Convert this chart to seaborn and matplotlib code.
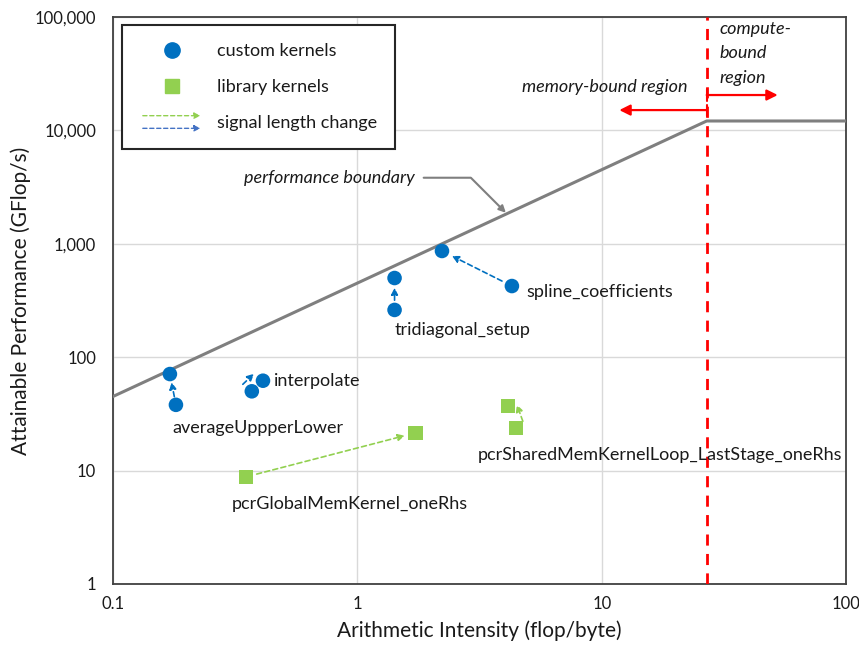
import numpy as np
import pandas as pd
import matplotlib
matplotlib.use("Agg")
import matplotlib.pyplot as plt
import matplotlib.transforms as mtrans
import seaborn as sns
from matplotlib.lines import Line2D
from matplotlib.patches import FancyArrowPatch
from matplotlib.legend_handler import HandlerBase
from matplotlib.ticker import FuncFormatter, LogLocator, NullFormatter

# ---------------- data ----------------
kernel_names = ["averageUppperLower", "interpolate", "tridiagonal_setup",
                "spline_coefficients", "pcrGlobalMemKernel_oneRhs",
                "pcrSharedMemKernelLoop_LastStage_oneRhs"]
kernel_kind = ["custom kernels", "custom kernels", "custom kernels",
               "custom kernels", "library kernels", "library kernels"]
ai_before = [0.181, 0.370, 1.42, 4.29, 0.350, 4.45]
perf_before = [38, 50, 261, 424, 8.8, 23.8]
ai_after = [0.171, 0.411, 1.42, 2.22, 1.73, 4.13]
perf_after = [71, 62, 499, 864, 21.5, 37.1]

peak_gflops = 12100.0
bandwidth_gbs = 450.0
x_ticks = [0.1, 1, 10, 100]
y_ticks = [1, 10, 100, 1000, 10000, 100000]

# ---------------- style ----------------
sns.set_theme(style="white")
plt.rcParams["font.family"] = ["Lato", "DejaVu Sans"]

BLUE = "#0070C0"
GREEN = "#92D050"
LBLUE = "#4472C4"
GRAY = "#7F7F7F"
RED = "#FF0000"
EDGE = "#404040"
TXT = "#1a1a1a"

fig = plt.figure(figsize=(8.59, 6.48), dpi=100)
ax = fig.add_axes([0.1315, 0.0988, 0.8535, 0.8750])

df = pd.DataFrame({
    "name": kernel_names * 2,
    "kind": kernel_kind * 2,
    "ai": ai_before + ai_after,
    "perf": perf_before + perf_after,
})

ax.set_xscale("log")
ax.set_yscale("log")
ax.set_xlim(0.1, 100)
ax.set_ylim(1, 100000)

# grid
ax.grid(True, which="major", color="#D9D9D9", lw=1.0)
ax.set_axisbelow(True)

# roofline
ridge = peak_gflops / bandwidth_gbs
rx = np.array([0.1, ridge, 100.0])
ry = np.minimum(peak_gflops, bandwidth_gbs * rx)
ax.plot(rx, ry, color=GRAY, lw=2.2, zorder=3)

# ridge vertical line
ax.axvline(ridge, color=RED, lw=2.0, ls=(0, (4, 3)), zorder=3)

# points
sns.scatterplot(data=df, x="ai", y="perf", hue="kind", style="kind",
                markers={"custom kernels": "o", "library kernels": "s"},
                palette={"custom kernels": BLUE, "library kernels": GREEN},
                s=110, linewidth=0, legend=False, ax=ax, zorder=4)

# arrows showing signal length change (pixel offset, shrink) per arrow
arrow_layout = [(0, 0, 6), (-9, 7, 0), (0, 0, 7), (0, 0, 8), (0, 0, 8), (8, 4, 2)]
for k, x0, y0, x1, y1, (ox, oy, shr) in zip(kernel_kind, ai_before, perf_before,
                                           ai_after, perf_after, arrow_layout):
    c = BLUE if k == "custom kernels" else GREEN
    tr = ax.transData + mtrans.ScaledTranslation(ox / 100, oy / 100, fig.dpi_scale_trans)
    arr = FancyArrowPatch((x0, y0), (x1, y1), transform=tr, arrowstyle="-|>",
                          color=c, lw=1.2, ls=(0, (3, 2)), shrinkA=shr, shrinkB=shr,
                          mutation_scale=10, zorder=3)
    ax.add_patch(arr)

# kernel labels (offset in pixels from a reference point)
label_layout = {
    "averageUppperLower": (1, 88, -54, "center"),
    "interpolate": (1, 11, 0, "left"),
    "tridiagonal_setup": (0, 68, -20, "center"),
    "spline_coefficients": (0, 14, -6, "left"),
    "pcrGlobalMemKernel_oneRhs": (0, 104, -27, "center"),
    "pcrSharedMemKernelLoop_LastStage_oneRhs": (0, 144, -27, "center"),
}
for i, nm in enumerate(kernel_names):
    which, dx, dy, ha = label_layout[nm]
    px, py = (ai_after[i], perf_after[i]) if which == 1 else (ai_before[i], perf_before[i])
    ax.annotate(nm, xy=(px, py), xytext=(dx, dy), textcoords="offset pixels",
                ha=ha, va="center", fontsize=13, color=TXT, zorder=5)

# performance boundary annotation
xb = 4.09
ax.annotate("performance boundary", xy=(xb, bandwidth_gbs * xb), xytext=(-92, 36),
            textcoords="offset pixels", ha="right", va="center", fontsize=13,
            style="italic", color=TXT,
            arrowprops=dict(arrowstyle="-|>", color=GRAY, lw=1.5,
                            connectionstyle="angle,angleA=0,angleB=135,rad=0",
                            shrinkA=4, shrinkB=1, mutation_scale=10))

# region arrows
ax.annotate("", xy=(11.8, 15100), xytext=(ridge, 15100),
            arrowprops=dict(arrowstyle="-|>", color=RED, lw=1.6, mutation_scale=16,
                            shrinkA=0, shrinkB=0))
ax.annotate("", xy=(52.5, 20500), xytext=(ridge, 20500),
            arrowprops=dict(arrowstyle="-|>", color=RED, lw=1.6, mutation_scale=16,
                            shrinkA=0, shrinkB=0))
ax.plot([ridge, ridge], [13500, 16900], color=RED, lw=1.5, zorder=3)
ax.plot([ridge, ridge], [18300, 23000], color=RED, lw=1.5, zorder=3)
ax.annotate("memory-bound region", xy=(ridge, 20500), xytext=(-19, 0),
            textcoords="offset pixels", ha="right", va="bottom", fontsize=13,
            style="italic", color=TXT)
ax.annotate("compute-\nbound\nregion", xy=(ridge, 100000), xytext=(13, -4),
            textcoords="offset pixels", ha="left", va="top", fontsize=13,
            style="italic", color=TXT, linespacing=1.65)

# axes formatting
ax.set_xticks(x_ticks)
ax.set_yticks(y_ticks)
ax.xaxis.set_major_formatter(FuncFormatter(lambda v, p: f"{v:g}"))
ax.yaxis.set_major_formatter(FuncFormatter(lambda v, p: f"{v:,.0f}"))
ax.xaxis.set_minor_locator(LogLocator(base=10, subs=np.arange(2, 10), numticks=20))
ax.yaxis.set_minor_locator(LogLocator(base=10, subs=np.arange(2, 10), numticks=20))
ax.xaxis.set_minor_formatter(NullFormatter())
ax.yaxis.set_minor_formatter(NullFormatter())
ax.tick_params(which="major", direction="in", length=0, labelsize=12,
               colors=TXT, pad=12)
ax.tick_params(which="minor", direction="in", length=5, width=1, color=EDGE)
ax.tick_params(axis="x", which="major", pad=9)
for sp in ax.spines.values():
    sp.set_color(EDGE)
    sp.set_linewidth(1.3)

ax.set_xlabel("Arithmetic Intensity (flop/byte)", fontsize=15, labelpad=6, color=TXT)
ax.set_ylabel("Attainable Performance (GFlop/s)", fontsize=15, labelpad=3, color=TXT)


# legend with custom double-arrow handle
class DoubleArrow:
    pass


class HandlerDoubleArrow(HandlerBase):
    def create_artists(self, legend, orig_handle, xdescent, ydescent,
                       width, height, fontsize, trans):
        arts = []
        for frac, c in [(0.95, GREEN), (-0.05, LBLUE)]:
            y = -ydescent + height * frac
            a = FancyArrowPatch((-xdescent, y), (-xdescent + width, y),
                                arrowstyle="-|>", mutation_scale=9, lw=1.0,
                                ls=(0, (3, 2)), color=c, transform=trans)
            arts.append(a)
        return arts


handles = [
    Line2D([], [], marker="o", ls="", color=BLUE, markersize=11),
    Line2D([], [], marker="s", ls="", color=GREEN, markersize=9.5),
    DoubleArrow(),
]
labels = ["custom kernels", "library kernels", "signal length change"]
leg = ax.legend(handles, labels, handler_map={DoubleArrow: HandlerDoubleArrow()},
                loc="upper left", bbox_to_anchor=(0.0123, 0.986), borderaxespad=0,
                fontsize=13, handlelength=3.5, handletextpad=0.75, labelspacing=1.1,
                borderpad=1.0, frameon=True, fancybox=False,
                edgecolor="#262626", framealpha=1)
leg.get_frame().set_linewidth(1.5)
for t in leg.get_texts():
    t.set_color(TXT)

fig.savefig("out.png", dpi=100)
